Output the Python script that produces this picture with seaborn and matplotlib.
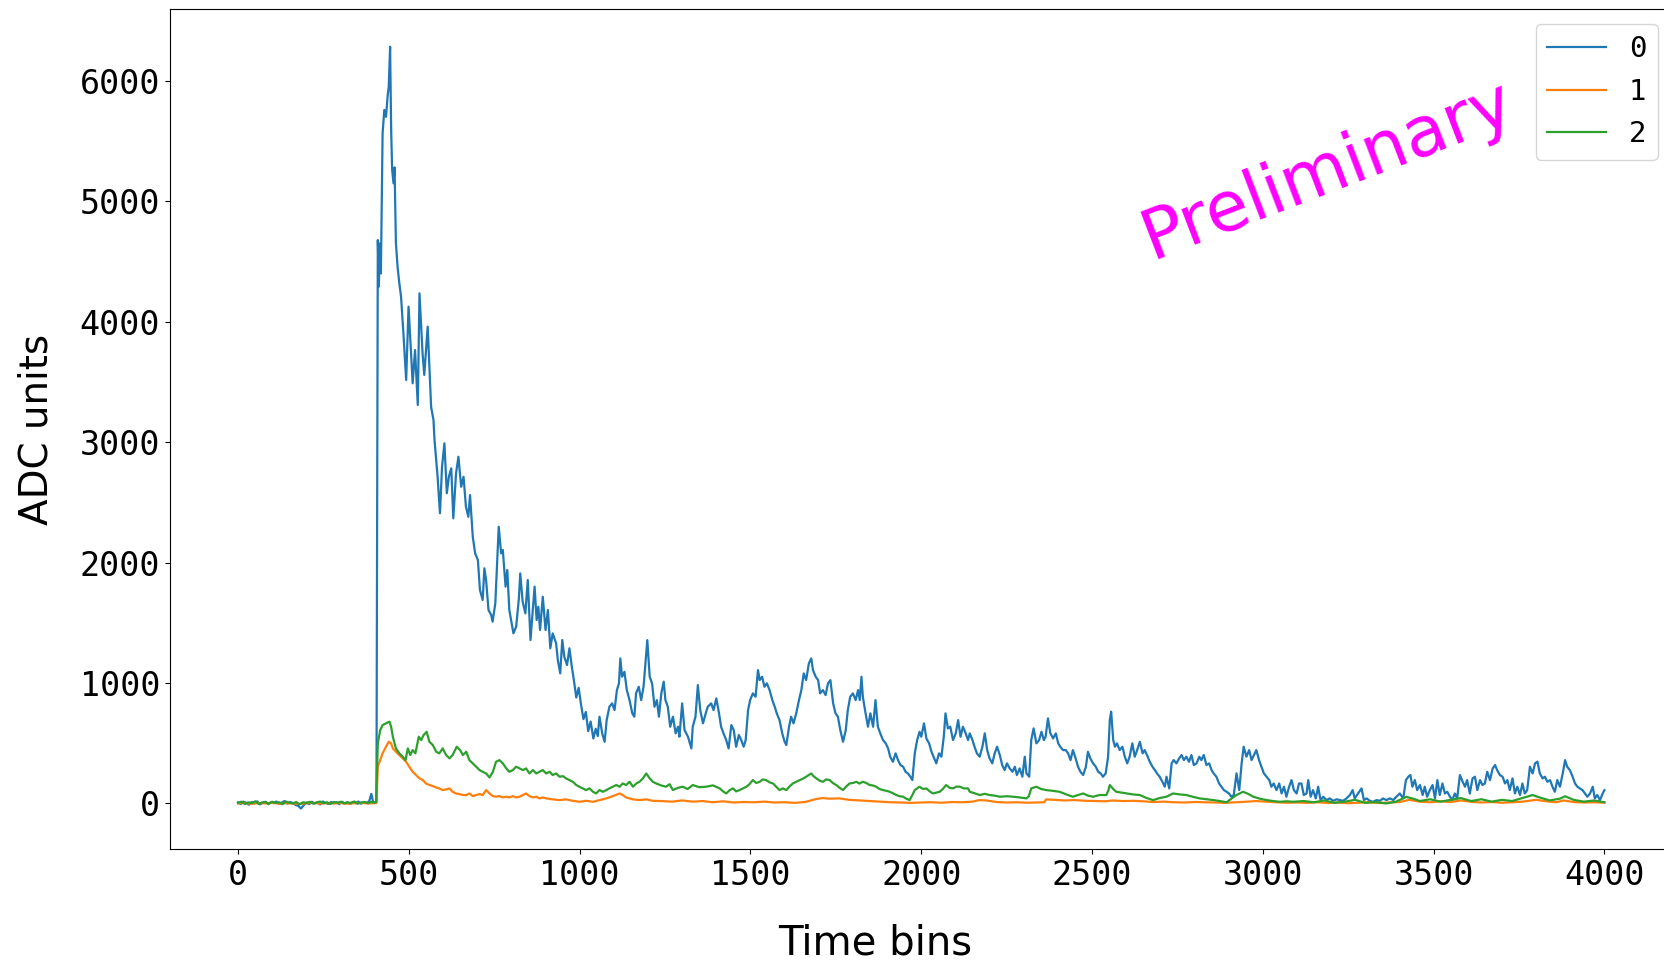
import matplotlib
matplotlib.use("Agg")
import matplotlib.pyplot as plt
import seaborn as sns
import pandas as pd

# ---------------- data ----------------
channels = ["0", "1", "2"]
x_ticks = [0, 500, 1000, 1500, 2000, 2500, 3000, 3500, 4000]
y_ticks = [0, 1000, 2000, 3000, 4000, 5000, 6000]

blue_bins = [
    0, 8, 16, 24, 32, 40, 48, 56, 64, 72, 80, 88, 96, 104, 112, 120, 128, 136, 144, 152,
    160, 168, 176, 184, 192, 200, 208, 216, 224, 232, 240, 248, 256, 264, 272, 280, 288, 296,
    304, 312, 320, 328, 336, 344, 352, 360, 368, 376, 384, 390, 395, 402, 405,
    409, 412, 415, 418, 423, 428, 433, 438, 441, 445, 448, 451, 455, 458, 462, 467, 472, 477,
    484, 492, 499, 505, 511, 518, 526, 531, 540, 545, 555, 565, 572, 575, 584, 591, 597, 604,
    611, 617, 624, 630, 638, 645, 653, 660, 667, 674, 679, 687, 694, 702, 708, 716, 721, 726,
    733, 741, 745, 753, 763, 770, 775, 783, 788, 794, 806, 814, 822, 826, 833, 841, 848, 856,
    868, 874, 879, 884, 892, 900, 907, 914, 921, 931, 936, 943, 949, 955, 963, 970, 977, 983,
    990, 997, 1004, 1011, 1018, 1025, 1032, 1040, 1047, 1053, 1058, 1066, 1073, 1079, 1087,
    1095, 1102, 1109, 1115, 1119, 1124, 1131, 1138, 1146, 1154, 1160, 1165, 1173, 1180, 1187,
    1195, 1198, 1205, 1212, 1219, 1226, 1232, 1239, 1246, 1251, 1258, 1265, 1273, 1281, 1288,
    1292, 1300, 1307, 1317, 1327, 1331, 1339, 1346, 1353, 1361, 1369, 1375, 1385, 1392, 1400,
    1408, 1414, 1421, 1429, 1436, 1444, 1451, 1458, 1466, 1473, 1480, 1486, 1493, 1499, 1507,
    1515, 1522, 1527, 1534, 1541, 1548, 1556, 1564, 1571, 1577, 1585, 1593, 1600, 1605, 1613,
    1619, 1626, 1634, 1642, 1649, 1656, 1663, 1671, 1678, 1683, 1691, 1698, 1704, 1712, 1720,
    1727, 1734, 1742, 1749, 1756, 1763, 1771, 1779, 1785, 1792, 1800, 1808, 1815, 1820, 1825,
    1829, 1837, 1844, 1851, 1859, 1866, 1873, 1880, 1888, 1896, 1903, 1909, 1917, 1925, 1932,
    1939, 1947, 1954, 1961, 1968, 1974, 1981, 1988, 1995, 2000, 2008, 2015, 2023, 2030, 2036,
    2044, 2052, 2059, 2066, 2071, 2078, 2085, 2093, 2101, 2108, 2115, 2122, 2130, 2137,
    2142, 2150, 2156, 2163, 2171, 2179, 2186, 2193, 2200, 2208, 2215, 2222, 2230, 2237, 2244,
    2251, 2259, 2267, 2274, 2280, 2288, 2296, 2303, 2308, 2316, 2322, 2329, 2337, 2345, 2352,
    2359, 2364, 2371, 2378, 2386, 2394, 2401, 2407, 2415, 2423, 2430, 2437, 2444, 2452, 2459,
    2466, 2474, 2482, 2488, 2495, 2503, 2511, 2518, 2525, 2532, 2540, 2547, 2552, 2556, 2562,
    2567, 2573, 2581, 2589, 2596, 2603, 2610, 2618, 2625, 2632, 2640, 2648, 2654, 2661, 2669,
    2677, 2684, 2690, 2698, 2706, 2713, 2718, 2726, 2733, 2739, 2747, 2755, 2762, 2769, 2776,
    2784, 2791, 2798, 2806, 2814, 2820, 2827, 2835, 2843, 2850, 2856, 2864, 2872, 2879, 2886,
    2894, 2901, 2908, 2915, 2923, 2931, 2938, 2944, 2952, 2960, 2967, 2974, 2981, 2989, 2996,
    3003, 3011, 3019, 3025, 3032, 3040, 3048, 3055, 3062, 3069, 3077, 3084, 3091, 3099, 3106,
    3113, 3120, 3128, 3133, 3140, 3147, 3155, 3162, 3169, 3177, 3186, 3196, 3206, 3216, 3225,
    3235, 3245, 3255, 3263, 3269, 3279, 3289, 3296, 3304, 3313, 3323, 3333, 3343, 3352, 3362,
    3372, 3382, 3391, 3401, 3411, 3419, 3426, 3432, 3438, 3445, 3452, 3460, 3468, 3474, 3481,
    3489, 3497, 3504, 3511, 3518, 3526, 3533, 3540, 3548, 3555, 3562, 3569, 3577, 3585, 3592,
    3598, 3606, 3614, 3621, 3628, 3636, 3643, 3650, 3657, 3665, 3673, 3680, 3686, 3694, 3702,
    3709, 3716, 3723, 3731, 3738, 3745, 3753, 3760, 3767, 3774, 3782, 3790, 3797, 3804, 3811,
    3819, 3826, 3833, 3841, 3848, 3855, 3862, 3870, 3878, 3885, 3891, 3899, 3907, 3914, 3921,
    3928, 3936, 3943, 3950, 3958, 3966, 3972, 3979, 3987, 3995, 4000,
]
blue_vals = [
    10, -5, 15, 5, -10, 12, 0, 18, -8, 6, 14, -6, 10, 2, 16, -4, 8, 20, -2, 12,
    4, -12, -20, -42, -15, 8, -6, 14, 0, 10, -8, 16, 4, -4, 12, 2, 10, -6,
    14, 0, 8, -4, 12, 2, 16, -2, 10, 4, 20, 80, 15, 8, 20,
    4677, 4290, 4650, 4400, 5563, 5757, 5700, 5881, 5950, 6282, 5600, 5259, 5148, 5280, 4650, 4450, 4318, 4207,
    3900, 3515, 4124, 3800, 3488, 3764, 3308, 4235, 3737, 3557, 3958, 3293, 3183, 3017, 2712, 2409, 2796, 2990,
    2575, 2712, 2782, 2367, 2740, 2878, 2629, 2712, 2463, 2380, 2560, 2214, 2076, 2021, 1772, 1689, 1952, 1855,
    1606, 1564, 1509, 1661, 2297, 2076, 2104, 1800, 1938, 1606, 1412, 1467, 1703, 1910, 1675, 1578, 1855, 1357,
    1800, 1523, 1633, 1440, 1716, 1440, 1606, 1288, 1412, 1329, 1191, 1080, 1357, 1218, 1149, 1288, 1135, 1024,
    880, 960, 820, 700, 760, 600, 680, 540, 620, 560, 720, 581, 512, 692, 803,
    831, 775, 941, 997, 1204, 1052, 1093, 941, 858, 748, 720, 914, 969, 858, 969,
    1246, 1356, 1052, 997, 803, 858, 720, 914, 1011, 858, 803, 637, 720, 582, 637,
    554, 831, 609, 554, 457, 637, 720, 983, 775, 665, 748, 803, 831, 775, 872,
    748, 637, 582, 526, 457, 651, 609, 471, 568, 526, 471, 526, 775, 858, 914,
    886, 1107, 1024, 1052, 969, 997, 941, 858, 803, 748, 692, 582, 512, 485, 637,
    720, 665, 748, 858, 941, 1080, 1024, 1163, 1204, 1107, 1052, 1024, 914, 941, 900,
    997, 1024, 831, 748, 720, 609, 512, 609, 775, 886, 914, 858, 941, 858, 1052,
    886, 748, 637, 748, 637, 858, 637, 582, 526, 499, 457, 388, 346, 416, 360,
    319, 305, 263, 249, 222, 194, 416, 526, 595, 554, 665, 540, 499, 429, 388,
    333, 416, 388, 554, 748, 623, 637, 526, 582, 692, 554, 637, 582, 526,
    582, 526, 471, 416, 388, 471, 582, 443, 374, 333, 416, 471, 402, 319, 277,
    333, 291, 263, 305, 236, 291, 222, 388, 250, 222, 526, 623, 499, 526, 595,
    526, 554, 706, 582, 540, 582, 499, 471, 443, 443, 416, 360, 443, 374, 305,
    263, 236, 305, 429, 374, 333, 305, 263, 250, 222, 250, 388, 692, 762, 526,
    471, 499, 443, 471, 388, 333, 388, 499, 388, 443, 512, 416, 443, 402, 346,
    305, 277, 250, 222, 180, 139, 222, 125, 333, 360, 333, 374, 402, 360, 388,
    346, 402, 319, 333, 388, 360, 402, 319, 333, 277, 250, 222, 166, 139, 111,
    97, 83, 56, 70, 250, 111, 333, 471, 388, 443, 360, 402, 443, 360, 305,
    250, 222, 194, 139, 166, 111, 166, 83, 139, 56, 139, 194, 111, 83, 166,
    166, 70, 83, 194, 56, 111, 42, 139, 28, 56, 28, 42, 22, 34, 28,
    22, 42, 70, 111, 42, 83, 125, 28, 42, 22, 14, 28, 22, 42, 28,
    42, 28, 56, 83, 42, 194, 222, 236, 139, 194, 111, 153, 70, 139, 56,
    111, 153, 42, 194, 70, 166, 83, 97, 56, 28, 83, 42, 236, 180, 139,
    194, 83, 208, 222, 111, 194, 153, 166, 263, 194, 291, 319, 277, 236, 222,
    166, 194, 111, 208, 83, 139, 70, 166, 83, 111, 305, 249, 333, 347, 249,
    208, 222, 180, 194, 139, 97, 194, 139, 249, 360, 305, 277, 222, 166, 139,
    125, 111, 83, 56, 83, 139, 42, 70, 28, 83, 110,
]

orange_bins = [
    0, 20, 40, 60, 80, 100, 120, 140, 160, 180, 200, 220, 240, 260, 280, 300, 320, 340, 360, 380, 400, 405,
    409, 416, 423, 433, 441, 448, 453, 462, 472, 482, 492, 501, 511, 521, 531, 541, 550, 560, 570, 580,
    589, 599, 609, 619, 628, 638, 648, 658, 668, 677, 687, 697, 707, 716, 726, 736, 746, 755, 765, 775,
    785, 794, 804, 814, 824, 834, 843, 853, 863, 873, 882, 892, 902, 921, 941, 960, 980, 999, 1019, 1039,
    1058, 1078, 1097, 1117, 1126, 1136, 1156, 1175, 1195, 1214, 1240, 1270, 1300, 1330, 1360, 1390, 1420,
    1450, 1480, 1510, 1540, 1570, 1600, 1630, 1660, 1690, 1710, 1730, 1760, 1790, 1820, 1850, 1880, 1910,
    1940, 1970, 2000, 2030, 2060, 2090, 2120, 2150, 2170, 2190, 2220, 2250, 2280, 2310, 2340, 2360, 2366,
    2390, 2420, 2450, 2480, 2510, 2540, 2560, 2590, 2620, 2650, 2680, 2710, 2740, 2770, 2800, 2830, 2860,
    2890, 2920, 2950, 2980, 3010, 3040, 3070, 3100, 3130, 3160, 3190, 3220, 3250, 3280, 3310, 3340, 3370,
    3400, 3430, 3460, 3490, 3520, 3550, 3580, 3610, 3640, 3670, 3700, 3730, 3760, 3800, 3830, 3860, 3880,
    3910, 3940, 3970, 4000,
]
orange_vals = [
    0, 5, -3, 4, 0, 6, -2, 3, 0, -4, 2, 5, -1, 3, 0, 4, -2, 2, 5, 0, 3, 5,
    305, 360, 416, 471, 512, 499, 457, 429, 402, 374, 346, 305, 263, 236, 208, 194, 166, 153, 144, 133,
    125, 111, 117, 125, 97, 83, 78, 70, 70, 83, 61, 70, 78, 70, 111, 83, 61, 56, 61, 50,
    56, 50, 61, 50, 56, 70, 83, 61, 50, 56, 42, 50, 42, 34, 28, 34, 22, 14, 22, 14,
    28, 42, 61, 83, 70, 50, 34, 28, 34, 22, 20, 15, 25, 15, 20, 10, 18,
    8, 12, 10, 15, 8, 10, 5, 12, 35, 45, 40, 42, 30, 25, 20, 15, 10,
    8, 5, 8, 10, 6, 12, 10, 15, 28, 25, 12, 8, 10, 6, 8, 10, 34,
    30, 25, 28, 22, 20, 18, 25, 20, 22, 18, 12, 15, 10, 8, 12, 10, 8,
    5, 10, 14, 20, 15, 10, 6, 8, 5, 10, 4, 8, 2, 6, 10, 4, 8,
    12, 30, 15, 10, 18, 12, 25, 14, 8, 12, 6, 10, 15, 30, 18, 10, 25,
    12, 8, 10, 6,
]

green_bins = [
    0, 10, 20, 30, 40, 50, 60, 70, 80, 90, 100, 110, 120, 130, 140, 150, 160, 170, 180, 190, 200,
    210, 220, 230, 240, 250, 260, 270, 280, 290, 300, 310, 320, 330, 340, 350, 360, 370, 380, 390,
    400, 404,
    409, 416, 423, 433, 443, 448, 453, 462, 472, 482, 490, 497, 504, 511, 519, 529, 536, 543, 552,
    560, 570, 580, 589, 599, 609, 619, 628, 640, 650, 658, 668, 677, 687, 697, 707, 716, 726, 736,
    746, 755, 765, 775, 785, 794, 804, 814, 824, 834, 843, 853, 863, 873, 882, 892, 902, 912, 921,
    931, 941, 951, 960, 970, 980, 990, 999, 1009, 1019, 1029, 1039, 1048, 1058, 1068, 1078, 1087,
    1097, 1107, 1117, 1126, 1136, 1146, 1156, 1166, 1175, 1185, 1195, 1205, 1214, 1224,
    1238, 1253, 1263, 1273, 1288, 1302, 1316, 1331, 1350, 1370, 1390, 1410, 1420, 1429, 1439, 1449,
    1458, 1468, 1478, 1488, 1497, 1507, 1517, 1527, 1536, 1546, 1556, 1566, 1575, 1585, 1595, 1605,
    1614, 1624, 1634, 1644, 1653, 1663, 1670, 1678, 1685, 1693, 1702, 1712, 1722, 1732, 1741, 1751,
    1761, 1771, 1780, 1790, 1800, 1810, 1819, 1829, 1839, 1849, 1858, 1868, 1878, 1888, 1898, 1908,
    1917, 1927, 1937, 1947, 1956, 1966, 1974, 1981, 1988, 1995, 2005, 2015, 2025, 2034, 2044, 2054,
    2063, 2073, 2083, 2093, 2103, 2113, 2125, 2137,
    2142, 2156, 2171, 2186, 2200, 2215, 2230, 2250, 2269, 2288, 2308, 2315, 2322, 2337, 2351, 2366,
    2385, 2405, 2425, 2444, 2459, 2474, 2488, 2503, 2522, 2542, 2548, 2552, 2562, 2571, 2586,
    2601, 2620, 2640, 2660, 2679, 2698, 2718, 2737, 2757, 2776, 2796, 2815, 2835, 2855, 2874, 2894,
    2908, 2923, 2942, 2957, 2972, 2991, 3011, 3030, 3050, 3070, 3089,
    3120, 3150, 3180, 3210, 3240, 3270, 3300, 3330, 3360, 3390, 3420, 3440, 3460, 3490, 3520, 3550,
    3580, 3610, 3640, 3670, 3700, 3730, 3760, 3790, 3810, 3840, 3870, 3885, 3910, 3940, 3970, 4000,
]
green_vals = [
    5, 15, -5, 10, 2, 18, -3, 8, 12, -2, 14, 4, 10, -6, 16, 6, 0, 12, -8, 10, 4,
    14, -2, 8, 16, 2, 10, -4, 12, 6, 14, 0, 10, 4, 16, -2, 8, 12, 2, 14,
    6, 12,
    499, 609, 651, 665, 679, 637, 554, 457, 416, 388, 360, 457, 402, 443, 416, 554, 526, 568, 595,
    512, 485, 429, 416, 457, 402, 374, 402, 471, 443, 402, 429, 360, 333, 305, 277, 263, 249, 216,
    263, 346, 360, 333, 291, 263, 277, 305, 291, 277, 291, 249, 277, 249, 263, 277, 249, 263, 236,
    249, 222, 227, 208, 194, 180, 153, 139, 125, 111, 125, 97, 83, 111, 97, 111, 125,
    139, 153, 139, 166, 153, 180, 139, 166, 180, 208, 249, 208, 180, 166,
    150, 139, 160, 111, 130, 139, 120, 153, 135, 139, 150, 125, 100, 83, 110, 125,
    100, 111, 125, 139, 160, 194, 170, 180, 200, 194, 175, 166, 140, 111, 125, 111,
    140, 166, 180, 194, 205, 222, 235, 249, 225, 208, 190, 180, 200, 194, 170, 153,
    130, 111, 140, 166, 170, 180, 165, 180, 170, 153, 150, 139, 120, 111, 105, 97,
    85, 70, 60, 56, 40, 28, 70, 111, 125, 139, 120, 125, 100, 83, 90, 97,
    120, 153, 130, 125, 140, 139, 125, 125,
    97, 85, 70, 80, 70, 65, 56, 60, 56, 50, 42, 60, 125, 139, 120, 111,
    105, 97, 75, 56, 70, 83, 65, 56, 70, 70, 110, 153, 120, 97, 90,
    83, 75, 70, 45, 28, 45, 56, 83, 75, 70, 55, 42, 35, 28, 20, 10,
    40, 70, 97, 80, 56, 40, 28, 20, 14, 18, 14,
    20, 10, 25, 5, 15, 30, 5, 12, 0, 15, 55, 40, 20, 35, 15, 30,
    45, 20, 35, 15, 30, 20, 45, 70, 50, 25, 40, 60, 30, 15, 25, 10,
]

# ---------------- build long-form table ----------------
frames = []
for name, bins, vals in [(channels[0], blue_bins, blue_vals),
                         (channels[1], orange_bins, orange_vals),
                         (channels[2], green_bins, green_vals)]:
    frames.append(pd.DataFrame({"bin": bins, "adc": vals, "channel": name}))
df = pd.concat(frames, ignore_index=True)

# ---------------- figure ----------------
W, H = 1664, 963
fig = plt.figure(figsize=(W / 100, H / 100), dpi=100)
ax = fig.add_axes([169.8 / W, 1 - 849 / H, (1672.7 - 169.8) / W, (849 - 9) / H])

palette = sns.color_palette("tab10", 3)
sns.lineplot(data=df, x="bin", y="adc", hue="channel", hue_order=channels,
             palette=palette, estimator=None, linewidth=1.6, ax=ax, legend=False)

ax.set_xlim(-200, 4200)
ax.set_ylim(-378, 6595)
ax.set_xticks(x_ticks)
ax.set_yticks(y_ticks)
for lab in ax.get_xticklabels() + ax.get_yticklabels():
    lab.set_fontfamily("DejaVu Sans Mono")
    lab.set_fontsize(24)

ax.set_xlabel("Time bins", fontsize=29, family="DejaVu Sans")
ax.xaxis.label.set_verticalalignment("center")
ax.xaxis.set_label_coords(0.4696, -0.113)
ax.set_ylabel("ADC units", fontsize=28, labelpad=17, family="DejaVu Sans")

handles = ax.get_lines()[:3]
ax.legend(handles, channels, loc="upper right",
          prop={"family": "DejaVu Sans Mono", "size": 21})

ax.text(3190, 5259, "Preliminary", color="#ff00ff", fontsize=50, rotation=21,
        ha="center", va="center", rotation_mode="anchor", family="DejaVu Sans")

fig.savefig("out.png", dpi=100)
